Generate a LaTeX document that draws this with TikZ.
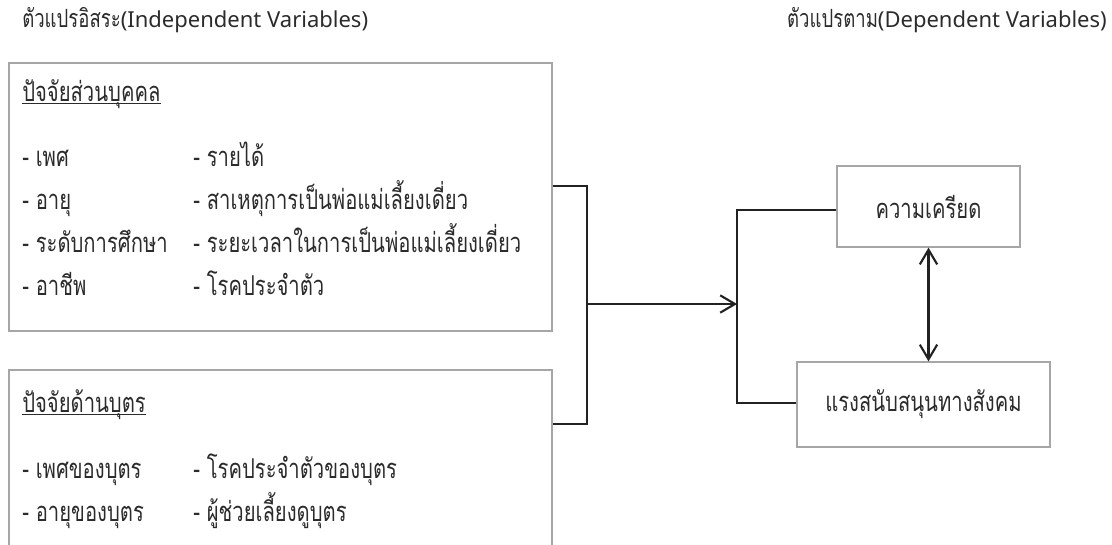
\documentclass[tikz,border=0pt]{standalone}
\usepackage{fontspec}
\setmainfont{Noto Sans}
\newfontfamily\thai[Script=Thai, FakeStretch=0.74]{Loma}
\usetikzlibrary{arrows.meta,fit,calc}
\definecolor{boxgray}{HTML}{A6A6A6}
\definecolor{ink}{HTML}{222222}
\definecolor{txt}{HTML}{2B2B2B}
\begin{document}
\begin{tikzpicture}[x=0.75pt,y=-0.75pt,
  box/.style={draw=boxgray, line width=0.9pt, inner sep=0pt},
  conn/.style={draw=ink, line width=1.6pt},
  lbl/.style={anchor=base west, inner sep=0pt, text=txt, font=\thai\fontsize{20.5}{24}\selectfont},
  hdr/.style={inner sep=0pt, text=txt, font=\fontsize{16.5}{20}\selectfont},
  dep/.style={box, text=txt, font=\thai\fontsize{20.5}{24}\selectfont},
  uline/.style={draw=txt, line width=0.7pt}]
\useasboundingbox (0,0) rectangle (1112,544);
\clip (0,0) rectangle (1112,544);

% headers
\node[hdr, anchor=base west] (h1) at (22,27) {{\thai\fontsize{18.8}{22}\selectfont ตัวแปรอิสระ}(Independent Variables)};
\node[hdr, anchor=base east] (h2) at (1107,27) {{\thai\fontsize{18.8}{22}\selectfont ตัวแปรตาม}(Dependent Variables)};

% independent boxes
\node[box, fit={(9,63) (552,331)}] (b1) {};
\node[box, fit={(9,370) (552,570)}] (b2) {};

% box 1 texts
\node[lbl] (t1) at (22,101) {ปัจจัยส่วนบุคคล};
\draw[uline] ($(t1.base west)+(0,2)$) -- ($(t1.base east)+(0,2)$);
\node[lbl] (r1a) at (22,166) {- เพศ};
\node[lbl] (r1b) at (193,166) {- รายได้};
\node[lbl] (r2a) at (22,209) {- อายุ};
\node[lbl] (r2b) at (193,209) {- สาเหตุการเป็นพ่อแม่เลี้ยงเดี่ยว};
\node[lbl] (r3a) at (22,252) {- ระดับการศึกษา};
\node[lbl] (r3b) at (193,252) {- ระยะเวลาในการเป็นพ่อแม่เลี้ยงเดี่ยว};
\node[lbl] (r4a) at (22,295) {- อาชีพ};
\node[lbl] (r4b) at (193,295) {- โรคประจำตัว};

% box 2 texts
\node[lbl] (t2) at (22,412) {ปัจจัยด้านบุตร};
\draw[uline] ($(t2.base west)+(0,2)$) -- ($(t2.base east)+(0,2)$);
\node[lbl] (s1a) at (22,478) {- เพศของบุตร};
\node[lbl] (s1b) at (193,478) {- โรคประจำตัวของบุตร};
\node[lbl] (s2a) at (22,521) {- อายุของบุตร};
\node[lbl] (s2b) at (193,521) {- ผู้ช่วยเลี้ยงดูบุตร};

% dependent boxes
\node[dep, minimum width=137.25pt, minimum height=60.75pt] (dA) at (928.5,206.5) {ความเครียด};
\node[dep, minimum width=189.75pt, minimum height=63.75pt] (dB) at (923.5,404.5) {แรงสนับสนุนทางสังคม};

% junction coordinates
\coordinate (j1) at (587,186);
\coordinate (j2) at (587,424);
\coordinate (jm) at (587,304);
\coordinate (k1) at (737,210);
\coordinate (k2) at (737,403);
\coordinate (km) at (737,304);

% connectors
\draw[conn] (b1.east |- j1) -- (j1) -- (j2) -- (b2.east |- j2);
\draw[conn, -{Straight Barb[length=11pt,width=13pt]}] (jm) -- (km);
\draw[conn] (dA.west |- k1) -- (k1) -- (k2) -- (dB.west |- k2);
\draw[conn, {Straight Barb[length=11pt,width=13pt]}-{Straight Barb[length=11pt,width=13pt]}] (dA.south) -- (dA.south |- dB.north);
\end{tikzpicture}
\end{document}
